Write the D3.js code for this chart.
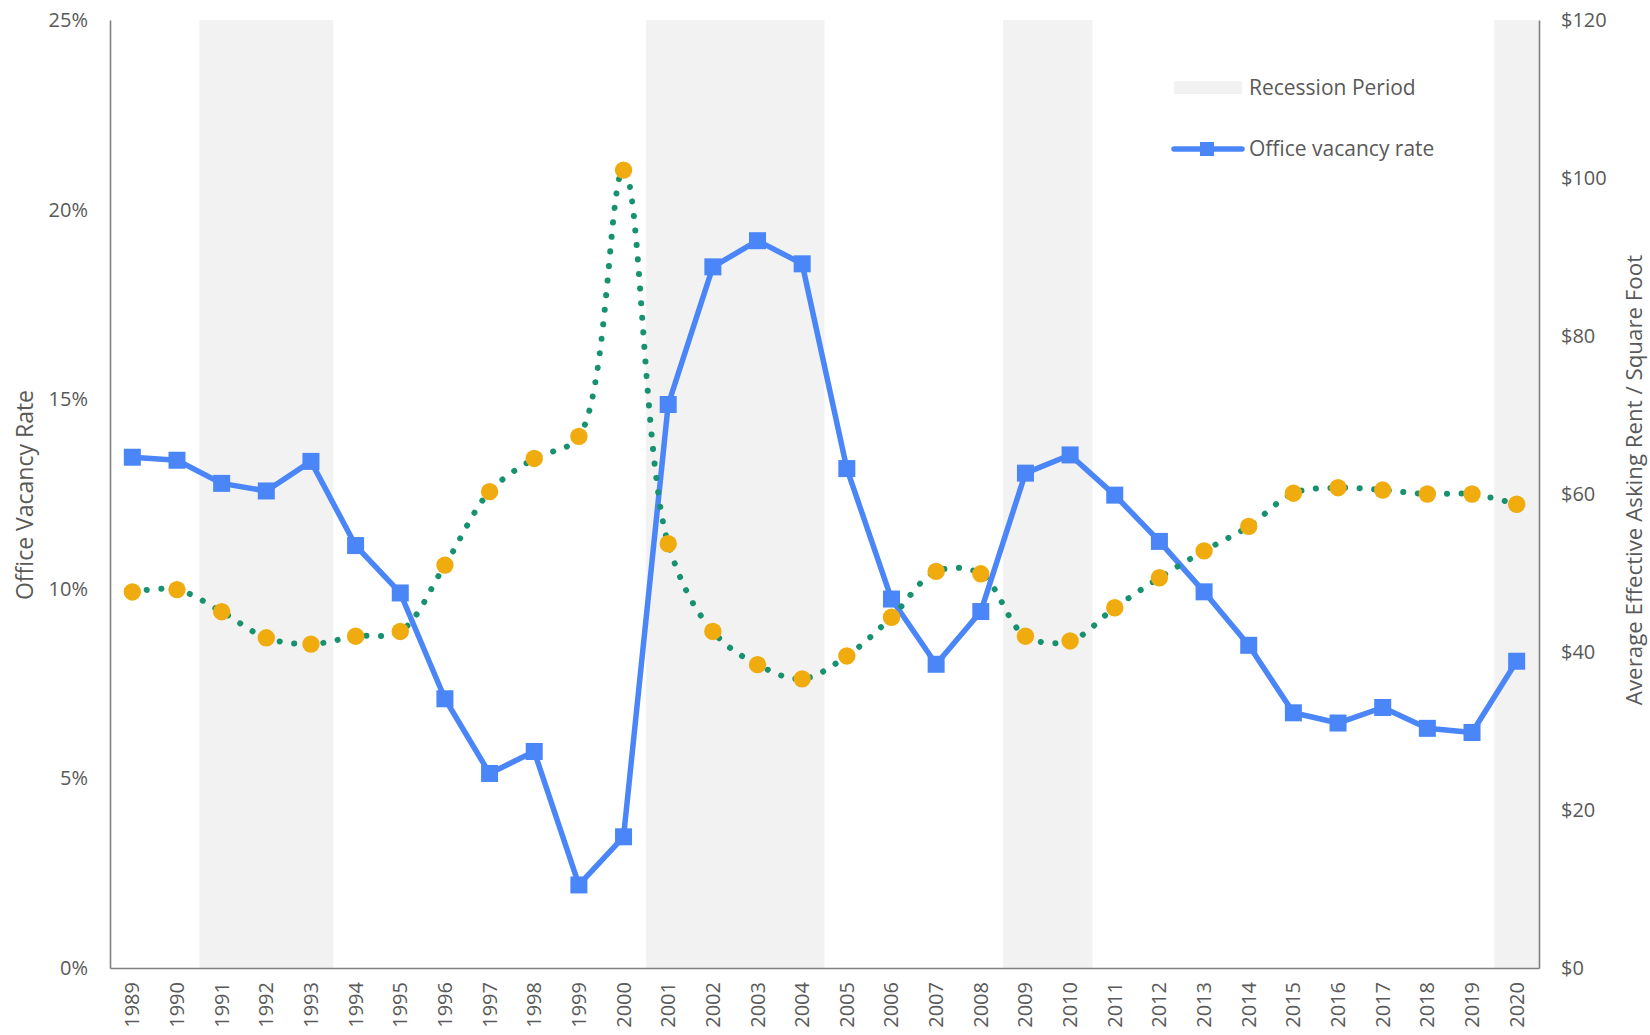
<!DOCTYPE html>
<html>
<head>
<meta charset="utf-8">
<script src="https://cdn.jsdelivr.net/npm/d3@7"></script>
<style>
  html, body { margin: 0; padding: 0; background: #fff; }
  svg text { font-family: "Open Sans", Lato, sans-serif; fill: #595959; }
</style>
</head>
<body>
<svg id="chart" width="1650" height="1035"></svg>
<script>
// Years on the category axis
const years = [1989,1990,1991,1992,1993,1994,1995,1996,1997,1998,1999,2000,
  2001,2002,2003,2004,2005,2006,2007,2008,2009,2010,2011,2012,2013,2014,
  2015,2016,2017,2018,2019,2020];

// Office vacancy rate, percent (left axis)
const vacancyRate = [13.47,13.39,12.78,12.58,13.36,11.14,9.89,7.10,5.13,5.71,2.19,3.46,
  14.86,18.49,19.18,18.57,13.17,9.73,8.01,9.40,13.05,13.53,12.47,11.25,9.92,8.51,
  6.73,6.46,6.87,6.32,6.21,8.09];

// Average effective asking rent, dollars per square foot (right axis)
const askingRent = [47.6,47.9,45.1,41.8,41.0,42.0,42.6,51.0,60.3,64.5,67.3,101.0,
  53.7,42.6,38.4,36.6,39.5,44.4,50.2,49.9,42.0,41.4,45.6,49.4,52.8,55.9,
  60.1,60.8,60.5,60.0,60.0,58.7];

// Recession periods as [first year, last year]
const recessions = [[1991,1993],[2001,2004],[2009,2010],[2020,2020]];

// Tick values
const vacancyTicks = [0,5,10,15,20,25];
const rentTicks = [0,20,40,60,80,100,120];

const margin = { left: 110, right: 111, top: 20, bottom: 67 };
const W = 1650, H = 1035;
const iw = W - margin.left - margin.right;
const ih = H - margin.top - margin.bottom;

const svg = d3.select("#chart");
const g = svg.append("g").attr("transform", `translate(${margin.left},${margin.top})`);

const x = d3.scaleBand().domain(years).range([0, iw]).padding(0);
const yL = d3.scaleLinear().domain([0, 25]).range([ih, 0]);
const yR = d3.scaleLinear().domain([0, 120]).range([ih, 0]);
const cx = d => x(d) + x.bandwidth() / 2;

// Recession shading
g.selectAll("rect.recession").data(recessions).enter().append("rect")
  .attr("class", "recession")
  .attr("x", d => x(d[0]))
  .attr("width", d => x(d[1]) + x.bandwidth() - x(d[0]))
  .attr("y", 0).attr("height", ih)
  .attr("fill", "#f2f2f2");

// Axes
const axisColor = "#808080";
const leftAxis = g.append("g").call(
  d3.axisLeft(yL).tickValues(vacancyTicks).tickSize(0).tickPadding(22).tickFormat(d => d + "%"));
const rightAxis = g.append("g").attr("transform", `translate(${iw},0)`).call(
  d3.axisRight(yR).tickValues(rentTicks).tickSize(0).tickPadding(22).tickFormat(d => "$" + d));
const bottomAxis = g.append("g").attr("transform", `translate(0,${ih})`).call(
  d3.axisBottom(x).tickSize(0).tickFormat(d => String(d)));

[leftAxis, rightAxis, bottomAxis].forEach(a => {
  a.select(".domain").attr("stroke", axisColor).attr("stroke-width", 1.6);
  a.selectAll("text").style("font-size", "20px").attr("fill", "#595959");
});
bottomAxis.selectAll("text")
  .attr("transform", "rotate(-90)")
  .attr("text-anchor", "end")
  .attr("dy", "0.35em")
  .attr("x", -14)
  .attr("y", 0);

// Axis titles
svg.append("text")
  .attr("transform", `translate(33,495) rotate(-90)`)
  .attr("text-anchor", "middle")
  .style("font-size", "23px")
  .text("Office Vacancy Rate");
svg.append("text")
  .attr("transform", `translate(1642,480) rotate(-90)`)
  .attr("text-anchor", "middle")
  .style("font-size", "22.3px")
  .text("Average Effective Asking Rent / Square Foot");

// Vacancy rate line with square markers
const blue = "#4a86f7";
const vacLine = d3.line().x((d, i) => cx(years[i])).y(d => yL(d));
g.append("path").datum(vacancyRate)
  .attr("d", vacLine)
  .attr("fill", "none").attr("stroke", blue).attr("stroke-width", 5.5)
  .attr("stroke-linejoin", "round");
const sq = 17;
g.selectAll("rect.vac").data(vacancyRate).enter().append("rect")
  .attr("class", "vac")
  .attr("x", (d, i) => cx(years[i]) - sq / 2)
  .attr("y", d => yL(d) - sq / 2)
  .attr("width", sq).attr("height", sq)
  .attr("fill", blue);

// Asking rent: smoothed dotted curve plus round markers
const rentLine = d3.line().x((d, i) => cx(years[i])).y(d => yR(d)).curve(d3.curveCatmullRom.alpha(0.5));
g.append("path").datum(askingRent)
  .attr("d", rentLine)
  .attr("fill", "none").attr("stroke", "#17916f").attr("stroke-width", 6)
  .attr("stroke-linecap", "round")
  .attr("stroke-dasharray", "0.1 14.5");
g.selectAll("circle.rent").data(askingRent).enter().append("circle")
  .attr("class", "rent")
  .attr("cx", (d, i) => cx(years[i]))
  .attr("cy", d => yR(d))
  .attr("r", 8.7)
  .attr("fill", "#f0ab0f");

// Legend
const lg = svg.append("g");
lg.append("rect").attr("x", 1174).attr("y", 81).attr("width", 68).attr("height", 13).attr("fill", "#f2f2f2");
lg.append("text").attr("x", 1249).attr("y", 88).attr("dy", "0.35em").style("font-size", "21px").text("Recession Period");
lg.append("line").attr("x1", 1174).attr("x2", 1242).attr("y1", 149).attr("y2", 149)
  .attr("stroke", blue).attr("stroke-width", 5.5).attr("stroke-linecap", "round");
lg.append("rect").attr("x", 1200).attr("y", 142).attr("width", 14).attr("height", 14).attr("fill", blue);
lg.append("text").attr("x", 1249).attr("y", 149).attr("dy", "0.35em").style("font-size", "21px").text("Office vacancy rate");
</script>
</body>
</html>
